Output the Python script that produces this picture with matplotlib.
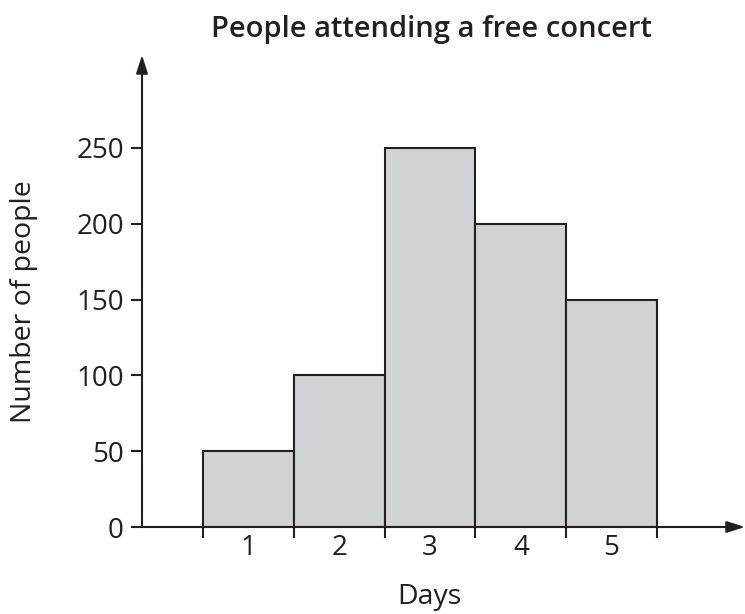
import matplotlib.pyplot as plt

days = [1, 2, 3, 4, 5]
people = [50, 100, 250, 200, 150]
yticks = [0, 50, 100, 150, 200, 250]

W, H = 745, 614
fig = plt.figure(figsize=(W / 100, H / 100), dpi=100)
ax = fig.add_axes([142 / W, (H - 527) / H, (745 - 142) / W, (527 - 55) / H])

ink = '#231f20'
ax.bar(days, people, width=1.0, color='#d1d2d4', edgecolor=ink, linewidth=1.5, zorder=2)

ax.set_xlim(-0.172, 6.469)
ax.set_ylim(0, 311.3)

for s in ax.spines.values():
    s.set_visible(False)

# axes with arrowheads
arrow = dict(arrowstyle='-|>,head_length=1.1,head_width=0.35',
             color=ink, lw=1.5, shrinkA=0, shrinkB=0)
ax.annotate('', xy=(1, 0), xytext=(0, 0), xycoords='axes fraction',
            arrowprops=arrow, annotation_clip=False)
ax.annotate('', xy=(0, 1), xytext=(0, 0), xycoords='axes fraction',
            arrowprops=arrow, annotation_clip=False)

# x ticks at bar edges, labels at centres
edges = [d - 0.5 for d in days] + [days[-1] + 0.5]
ax.set_xticks(edges, minor=True)
ax.set_xticks(days)
ax.set_xticklabels([str(d) for d in days])
ax.tick_params(axis='x', which='major', length=0, pad=5)
ax.tick_params(axis='x', which='minor', length=8, width=1.5, color=ink, direction='out')
ax.set_yticks(yticks)
ax.tick_params(axis='y', length=8, width=1.5, color=ink, pad=5)

font = 'Open Sans'
for lab in ax.get_xticklabels() + ax.get_yticklabels():
    lab.set_fontfamily(font)
    lab.set_fontsize(20)
    lab.set_color(ink)

fig.text(431 / W, 1 - 29 / H, 'People attending a free concert', ha='center', va='center',
         fontsize=21, fontweight='semibold', family=font, color=ink)
fig.text(429 / W, 1 - 597 / H, 'Days', ha='center', va='center',
         fontsize=20.5, family=font, color=ink)
fig.text(24 / W, 1 - 302 / H, 'Number of people', ha='center', va='center', rotation=90,
         fontsize=20.5, family=font, color=ink)

fig.savefig('out.png', dpi=100)
